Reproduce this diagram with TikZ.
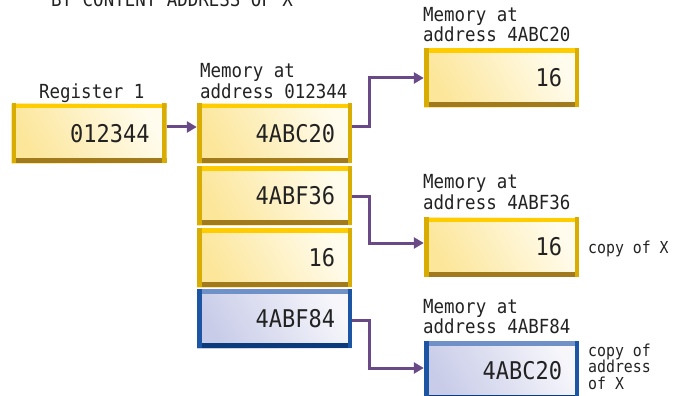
\documentclass[tikz,border=0pt]{standalone}
\usepackage{fontspec}
\newfontfamily\monofnt[FakeStretch=0.9]{DejaVu Sans Mono}
\usetikzlibrary{arrows.meta}
\definecolor{ytop}{HTML}{FFCC00}
\definecolor{yside}{HTML}{D8AC00}
\definecolor{ybot}{HTML}{A27A1E}
\definecolor{yfillA}{HTML}{FCE69A}
\definecolor{yfillB}{HTML}{FFFCEE}
\definecolor{btop}{HTML}{7090C8}
\definecolor{bside}{HTML}{1C55A3}
\definecolor{bbot}{HTML}{0C3B7C}
\definecolor{bfillA}{HTML}{C8CCE8}
\definecolor{bfillB}{HTML}{F6F6FB}
\definecolor{arrowc}{HTML}{6A4A86}
\definecolor{txt}{HTML}{222222}
\tikzset{
  membox/.style={rectangle, inner sep=0pt, minimum width=155pt, minimum height=59pt,
    text width=121pt, align=right, text=txt,
    font=\monofnt\fontsize{24.4}{26}\selectfont},
  ybox/.style={membox, left color=yfillA, right color=yfillB, shading angle=120,
    path picture={
      \fill[ytop] (path picture bounding box.north west) rectangle ([yshift=-4.5pt]path picture bounding box.north east);
      \fill[ybot] (path picture bounding box.south west) rectangle ([yshift=5pt]path picture bounding box.south east);
      \fill[yside] (path picture bounding box.south west) rectangle ([xshift=4.5pt,yshift=2pt]path picture bounding box.north west);
      \fill[yside] (path picture bounding box.south east) rectangle ([xshift=-4.5pt,yshift=2pt]path picture bounding box.north east);
    }},
  bbox/.style={membox, left color=bfillA, right color=bfillB, shading angle=120,
    path picture={
      \fill[btop] (path picture bounding box.north west) rectangle ([yshift=-4.5pt]path picture bounding box.north east);
      \fill[bbot] (path picture bounding box.south west) rectangle ([yshift=5pt]path picture bounding box.south east);
      \fill[bside] (path picture bounding box.south west) rectangle ([xshift=4.5pt,yshift=2pt]path picture bounding box.north west);
      \fill[bside] (path picture bounding box.south east) rectangle ([xshift=-4.5pt,yshift=2pt]path picture bounding box.north east);
    }},
  lbl/.style={anchor=base west, inner sep=0pt, text=txt, font=\monofnt\fontsize{19.4}{21}\selectfont},
  note/.style={anchor=base west, inner sep=0pt, text=txt, font=\monofnt\fontsize{16.5}{16.5}\selectfont},
  conn/.style={draw=arrowc, line width=3pt, -{Triangle[length=10pt,width=11pt]}},
}
\begin{document}
\begin{tikzpicture}[x=1pt,y=-1pt]
\useasboundingbox (0,0) rectangle (673,396);
\begin{scope}
\clip (0,0) rectangle (673,396);
% title (cut off at the top edge, as in the reference)
\node[lbl] (title) at (51,7) {BY CONTENT ADDRESS OF X};
% labels
\node[lbl] (regl) at (39,99) {Register 1};
\node[lbl] (ml1) at (200,78) {Memory at};
\node[lbl] (ml2) at (200,99) {address 012344};
\node[lbl] (r1l1) at (423,22) {Memory at};
\node[lbl] (r1l2) at (423,42) {address 4ABC20};
\node[lbl] (r2l1) at (423,189) {Memory at};
\node[lbl] (r2l2) at (423,209) {address 4ABF36};
\node[lbl] (r3l1) at (423,313) {Memory at};
\node[lbl] (r3l2) at (423,333) {address 4ABF84};
% boxes
\node[ybox] (reg) at (89,133.5) {012344};
\node[ybox] (ma) at (274.5,133.5) {4ABC20};
\node[ybox] (mb) at (274.5,195.5) {4ABF36};
\node[ybox] (mc) at (274.5,257.5) {16};
\node[bbox] (md) at (274.5,318.5) {4ABF84};
\node[ybox] (ra) at (501.5,78) {16};
\node[ybox] (rb) at (501.5,247) {16};
\node[bbox] (rc) at (501.5,370.5) {4ABC20};
% notes
\node[note] (n1) at (588,253) {copy of X};
\node[note] (n2) at (588,356) {copy of};
\node[note] (n3) at (588,372.5) {address};
\node[note] (n4) at (588,389) {of X};
% connectors
\draw[conn] (reg.east |- 0,127) -- (ma.west |- 0,127);
\draw[conn] (ma.east |- 0,127) -- (369,127) -- (369,78) -- (ra.west |- 0,78);
\draw[conn] (mb.east |- 0,196) -- (369,196) -- (369,243) -- (rb.west |- 0,243);
\draw[conn] (md.east |- 0,320) -- (369,320) -- (369,368) -- (rc.west |- 0,368);
\end{scope}
\end{tikzpicture}
\end{document}
